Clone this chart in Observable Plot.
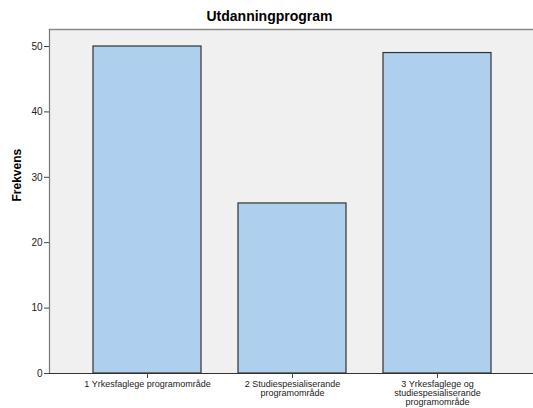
<!DOCTYPE html>
<html>
<head>
<meta charset="utf-8">
<script src="https://cdn.jsdelivr.net/npm/d3@7"></script>
<script src="https://cdn.jsdelivr.net/npm/@observablehq/plot@0.6"></script>
<style>
  html, body { margin: 0; padding: 0; background: #fff; overflow: hidden; }
  #title { height: 28px; width: 533px; padding-left: 6px; box-sizing: border-box; text-align: center;
    font: bold 14px "Liberation Sans", Arial, sans-serif; line-height: 28px; color: #000; padding-top: 2px; }
  svg { display: block; overflow: hidden; }
</style>
</head>
<body>
<div id="title">Utdanningprogram</div>
<div id="chart"></div>
<script>
const categories = [
  "1 Yrkesfaglege programområde",
  "2 Studiespesialiserande\nprogramområde",
  "3 Yrkesfaglege og\nstudiespesialiserande\nprogramområde"
];
const frequencies = [50, 26, 49];
const yTicks = [0, 10, 20, 30, 40, 50];
const yLabel = "Frekvens";

const data = categories.map((c, i) => ({category: c, value: frequencies[i]}));

const chart = Plot.plot({
  width: 533,
  height: 380,
  marginTop: 1,
  marginBottom: 35,
  marginLeft: 49,
  marginRight: 0,
  style: {fontFamily: "'Liberation Sans', Arial, sans-serif", background: "transparent", color: "#222"},
  x: {domain: categories, range: [49, 535.5], paddingInner: 0.253, paddingOuter: 0.293, label: null},
  y: {domain: [0, 52.6], label: null},
  marks: [
    Plot.frame({fill: "#f0f0f0", stroke: null}),
    Plot.frame({anchor: "top", stroke: "#8a8a8a", strokeWidth: 1.5}),
    Plot.frame({anchor: "left", stroke: "#777", strokeWidth: 1.2}),
    Plot.barY(data, {x: "category", y: "value", fill: "#aed0ee", stroke: "#333", strokeWidth: 1.2}),
    Plot.frame({anchor: "bottom", stroke: "#333", strokeWidth: 1.2}),
    Plot.axisY({ticks: yTicks, tickSize: 5, tickPadding: 2, fontSize: 10, stroke: "#444", label: null}),
    Plot.axisX({tickSize: 5, tickPadding: 2, fontSize: 9, lineHeight: 1, stroke: "#444", label: null}),
    Plot.text([yLabel], {frameAnchor: "left", dx: -32, rotate: -90, fontWeight: "bold", fontSize: 12, fill: "#000"})
  ]
});
document.getElementById("chart").appendChild(chart);
</script>
</body>
</html>
